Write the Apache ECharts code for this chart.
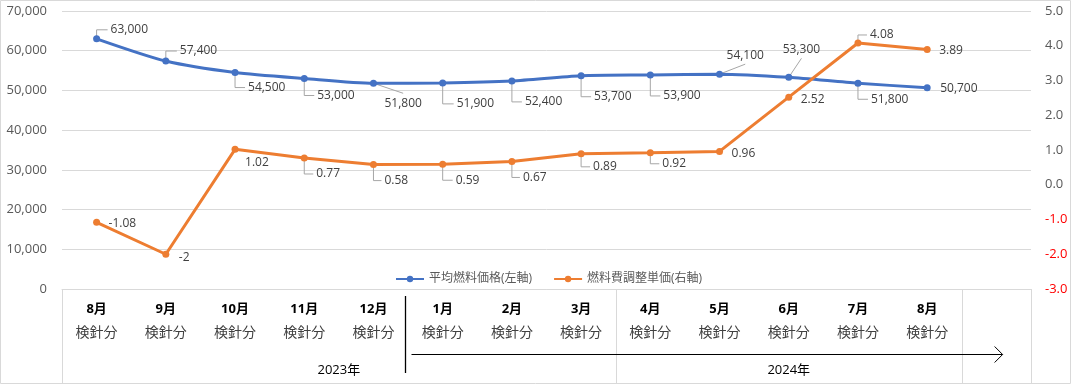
<!DOCTYPE html>
<html>
<head>
<meta charset="utf-8">
<script src="https://cdn.jsdelivr.net/npm/echarts@6/dist/echarts.min.js"></script>
<style>
html,body{margin:0;padding:0;background:#fff;}
#chart{width:1071px;height:384px;}
</style>
</head>
<body>
<div id="chart"></div>
<script>
// ---- data ----
const categories = ['8月','9月','10月','11月','12月','1月','2月','3月','4月','5月','6月','7月','8月',''];
const subLabel = '検針分';
const yearLabels = ['2023年','2024年'];
const avgFuelPrice = [63000,57400,54500,53000,51800,51900,52400,53700,53900,54100,53300,51800,50700];
const adjustUnitPrice = [-1.08,-2,1.02,0.77,0.58,0.59,0.67,0.89,0.92,0.96,2.52,4.08,3.89];
const seriesNames = ['平均燃料価格(左軸)','燃料費調整単価(右軸)'];

// ---- label placement (styling): [left-edge dx, middle dy] from the point ----
const blueLabelShift = [[14,-9],[14,-10],[13,15],[13,17],[11,20],[14,21],[13,21],[13,21],[13,21],[7,-19],[-6,-28],[13,16],[13,1]];
// leader type: 0 none, 1 elbow, 2 straight
const blueLeader = [1,1,1,1,2,1,1,1,1,2,2,1,0];
const orangeLabelShift = [[12,1],[13,3],[10,13],[12,16],[11,16],[13,16],[11,16],[12,13],[12,11],[12,2],[12,2],[12,-8],[12,1]];
const orangeLeader = [0,0,0,1,1,1,1,1,1,0,0,1,0];

const FONT = "'Open Sans','Noto Sans CJK JP',sans-serif";
const LABEL_FONT = "12px 'Open Sans','Noto Sans CJK JP',sans-serif";
const measureCtx = document.createElement('canvas').getContext('2d');
measureCtx.font = LABEL_FONT;

const chart = echarts.init(document.getElementById('chart'));

function fmtThousands(v){ return v.toLocaleString('en-US'); }
const blueText = v => fmtThousands(v);
const orangeText = v => String(v);

function makeData(values, shifts) {
  return values.map((v, i) => ({value: v, label: {offset: shifts[i]}}));
}

function leaderSeries(values, shifts, types, textFn, yAxisIndex) {
  return {
    type: 'custom', yAxisIndex: yAxisIndex, silent: true, z: 1,
    data: values.map((v, i) => [i, v]),
    renderItem: function(params, api) {
      const i = params.dataIndex;
      const t = types[i];
      if (!t) return null;
      const p = api.coord([api.value(0), api.value(1)]);
      const s = shifts[i];
      const lx = p[0] + s[0], my = p[1] + s[1];
      const w = measureCtx.measureText(textFn(values[i])).width;
      let pts;
      if (t === 1) {
        pts = [[p[0], p[1]], [p[0], my], [lx - 3, my]];
      } else {
        const ey = s[1] > 0 ? my - 10 : my + 9;
        pts = [[p[0], p[1]], [lx + w / 2, ey]];
      }
      return {type: 'polyline', shape: {points: pts}, style: {stroke: '#a6a6a6', lineWidth: 1, fill: null}};
    }
  };
}

const labelBase = {show: true, position: 'inside', align: 'left', verticalAlign: 'middle', color: '#404040', fontSize: 12, fontFamily: FONT};

const option = {
  animation: false,
  textStyle: {fontFamily: FONT},
  grid: {left: 62, right: 40, top: 11, bottom: 95},
  legend: {
    data: seriesNames,
    left: 390, top: 268,
    itemWidth: 28, itemHeight: 8, itemGap: 21,
    textStyle: {color: '#595959', fontSize: 12, fontFamily: FONT}
  },
  xAxis: {
    type: 'category',
    data: categories,
    boundaryGap: true,
    axisLine: {lineStyle: {color: '#d9d9d9', width: 1}},
    axisTick: {show: false},
    axisLabel: {
      interval: 0,
      margin: 8,
      formatter: function(v){ return v ? '{m|' + v + '}\n{k|' + subLabel + '}' : ''; },
      rich: {
        m: {fontSize: 13, color: '#000', fontWeight: 'bold', lineHeight: 24, fontFamily: FONT},
        k: {fontSize: 14, color: '#404040', lineHeight: 24, fontFamily: FONT}
      }
    }
  },
  yAxis: [
    {
      type: 'value', min: 0, max: 70000, interval: 10000,
      axisLine: {show: false}, axisTick: {show: false},
      splitLine: {lineStyle: {color: '#d9d9d9'}},
      axisLabel: {color: '#595959', fontSize: 13, margin: 15, formatter: fmtThousands}
    },
    {
      type: 'value', min: -3, max: 5, interval: 1,
      axisLine: {show: false}, axisTick: {show: false},
      splitLine: {show: false},
      axisLabel: {
        fontSize: 13, margin: 14,
        formatter: function(v){ return v < 0 ? '{r|' + v.toFixed(1) + '}' : '{g|' + v.toFixed(1) + '}'; },
        rich: {r: {color: '#ff0000', fontSize: 13, fontFamily: FONT}, g: {color: '#595959', fontSize: 13, fontFamily: FONT}}
      }
    }
  ],
  series: [
    leaderSeries(avgFuelPrice, blueLabelShift, blueLeader, blueText, 0),
    leaderSeries(adjustUnitPrice, orangeLabelShift, orangeLeader, orangeText, 1),
    {
      name: seriesNames[0], type: 'line', yAxisIndex: 0,
      data: makeData(avgFuelPrice, blueLabelShift),
      smooth: 0.25,
      symbol: 'circle', symbolSize: 7,
      itemStyle: {color: '#4472C4'},
      lineStyle: {color: '#4472C4', width: 3},
      label: Object.assign({}, labelBase, {formatter: p => blueText(p.value)}),
      z: 3
    },
    {
      name: seriesNames[1], type: 'line', yAxisIndex: 1,
      data: makeData(adjustUnitPrice, orangeLabelShift),
      symbol: 'circle', symbolSize: 7,
      itemStyle: {color: '#ED7D31'},
      lineStyle: {color: '#ED7D31', width: 3},
      label: Object.assign({}, labelBase, {formatter: p => orangeText(p.value)}),
      z: 4
    }
  ]
};
chart.setOption(option);

// ---- table decorations derived from the category axis ----
const c0 = chart.convertToPixel({xAxisIndex: 0}, 0);
const c1 = chart.convertToPixel({xAxisIndex: 0}, 1);
const band = c1 - c0;
const boundary = i => c0 - band / 2 + i * band;   // left edge of category i
const yBase = chart.convertToPixel({yAxisIndex: 0}, 0);
const W = chart.getWidth(), H = chart.getHeight();
const bottomY = H - 1;
const gray = {stroke: '#d9d9d9', lineWidth: 1};
const g = [];
g.push({type: 'rect', shape: {x: 0.5, y: 0.5, width: W - 1, height: H - 1}, style: {fill: null, stroke: '#d9d9d9', lineWidth: 1}, silent: true});
[0, 8, 13, categories.length].forEach(i => {
  const x = Math.round(boundary(i)) + 0.5;
  g.push({type: 'line', shape: {x1: x, y1: yBase, x2: x, y2: bottomY}, style: gray, silent: true});
});
const groups = [[0, 8], [8, 13]];
groups.forEach((gr, k) => {
  g.push({type: 'text', x: (boundary(gr[0]) + boundary(gr[1])) / 2, y: 370,
    style: {text: yearLabels[k], fill: '#000', font: "13px 'Open Sans','Noto Sans CJK JP'", align: 'center', verticalAlign: 'middle'}, silent: true});
});
const divX = Math.round(boundary(5)) - 2.5;
g.push({type: 'line', shape: {x1: divX, y1: 296, x2: divX, y2: 373}, style: {stroke: '#000', lineWidth: 1.3}, silent: true});
const arrStart = divX + 6, arrEnd = boundary(13) + band * 0.59, arrY = 354.5;
g.push({type: 'line', shape: {x1: arrStart, y1: arrY, x2: arrEnd, y2: arrY}, style: {stroke: '#000', lineWidth: 1.2}, silent: true});
g.push({type: 'polyline', shape: {points: [[arrEnd - 8, arrY - 8], [arrEnd, arrY], [arrEnd - 8, arrY + 8]]}, style: {stroke: '#000', lineWidth: 1, fill: null}, silent: true});
chart.setOption({graphic: g});
</script>
</body>
</html>
